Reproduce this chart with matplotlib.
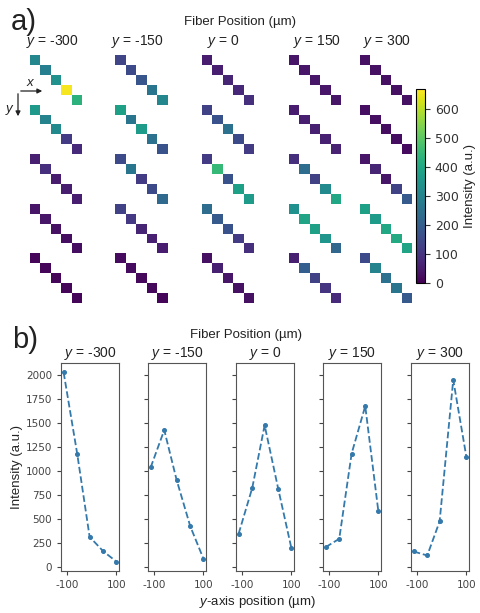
import numpy as np
import matplotlib
matplotlib.use("Agg")
import matplotlib.pyplot as plt

plt.rcParams['mathtext.fontset'] = 'custom'
plt.rcParams['mathtext.it'] = 'Liberation Sans:italic'
plt.rcParams['mathtext.rm'] = 'Liberation Sans'
plt.rcParams['axes.unicode_minus'] = False

fiber = ["-300", "-150", "0", "150", "300"]

# panel a: 5 groups (y positions) x 5 pixels (x positions), one list per fiber position
a_300n = [[310, 290, 340, 660, 430], [360, 300, 320, 120, 80], [60, 90, 50, 55, 55],
          [40, 40, 30, 25, 25], [10, 10, 10, 10, 10]]
a_150n = [[140, 150, 180, 260, 310], [380, 260, 370, 250, 170], [150, 260, 120, 150, 230],
          [130, 110, 70, 60, 50], [20, 20, 15, 15, 10]]
a_0 = [[50, 55, 70, 75, 90], [130, 170, 250, 150, 120], [120, 450, 170, 380, 370],
       [240, 190, 170, 120, 90], [30, 60, 40, 30, 30]]
a_150 = [[40, 40, 40, 40, 40], [50, 55, 60, 60, 65], [90, 240, 130, 320, 400],
         [340, 390, 380, 350, 220], [60, 200, 130, 100, 80]]
a_300 = [[30, 30, 30, 30, 30], [25, 25, 25, 25, 20], [40, 70, 40, 130, 190],
         [380, 370, 400, 410, 390], [150, 300, 250, 260, 190]]
a_vals = [a_300n, a_150n, a_0, a_150, a_300]

# panel b: summed intensity vs y-axis position
ypos = [-113, -58, -8, 47, 100]
b_300n = [2025, 1175, 312, 162, 55]
b_150n = [1035, 1425, 905, 423, 86]
b_0 = [345, 822, 1475, 812, 196]
b_150 = [205, 292, 1180, 1675, 577]
b_300 = [160, 118, 473, 1948, 1146]
b_vals = [b_300n, b_150n, b_0, b_150, b_300]

W, H = 481, 613
fig = plt.figure(figsize=(W / 100, H / 100), dpi=100)


def px_ax(l, t, w, h, **kw):
    return fig.add_axes([l / W, 1 - (t + h) / H, w / W, h / H], **kw)


def ftxt(x, y, s, **kw):
    fig.text(x / W, 1 - y / H, s, **kw)


lab = dict(family='Liberation Sans', color='#222222')

# ---- panel a ----
ftxt(11, 22, "a)", fontsize=21, va='center', **lab)
ftxt(240, 22, "Fiber Position (µm)", fontsize=9.5, ha='center', va='center', **lab)
a_lefts = [30, 115, 202, 289, 360]
title_x = [52, 137, 223, 317, 387]
for k in range(5):
    arr = np.full((25, 5), np.nan)
    for g in range(5):
        for i in range(5):
            arr[5 * g + i, i] = a_vals[k][g][i]
    ax = px_ax(a_lefts[k], 55, 52, 248)
    im = ax.imshow(arr, cmap='viridis', vmin=0, vmax=670, aspect='auto',
                   interpolation='nearest')
    ax.axis('off')
    ftxt(title_x[k], 42, "$y$ = " + fiber[k], fontsize=10, ha='center', va='center', **lab)

cax = px_ax(416, 89, 9, 194)
cb = fig.colorbar(im, cax=cax, ticks=range(0, 700, 100))
cb.ax.tick_params(labelsize=9, colors='#333333')
cb.set_label("Intensity (a.u.)", fontsize=9.5, **lab)

# xy arrows
fig.add_artist(matplotlib.patches.FancyArrowPatch(
    (18 / W, 1 - 91 / H), (45 / W, 1 - 91 / H), transform=fig.transFigure,
    arrowstyle='-|>', mutation_scale=7, lw=0.9, color='#222222'))
fig.add_artist(matplotlib.patches.FancyArrowPatch(
    (18 / W, 1 - 91 / H), (18 / W, 1 - 119 / H), transform=fig.transFigure,
    arrowstyle='-|>', mutation_scale=7, lw=0.9, color='#222222'))
ftxt(31, 83, "$x$", fontsize=9.5, ha='center', va='center', **lab)
ftxt(10, 110, "$y$", fontsize=9.5, ha='center', va='center', **lab)

# ---- panel b ----
ftxt(12, 340, "b)", fontsize=21, va='center', **lab)
ftxt(246, 335, "Fiber Position (µm)", fontsize=9.5, ha='center', va='center', **lab)
b_lefts = [61, 148, 236, 323, 411]
first = None
for k in range(5):
    ax = px_ax(b_lefts[k], 363, 58, 208, sharey=first)
    ax.plot(ypos, b_vals[k], '--o', color='#3479ab', lw=1.3, ms=2.6)
    ax.set_xticks([-100, 100])
    ax.set_title("$y$ = " + fiber[k], fontsize=10, pad=4, **lab)
    for s in ax.spines.values():
        s.set_color('#555555')
    ax.tick_params(labelsize=7.5, colors='#444444', length=3)
    if first is None:
        first = ax
        ax.set_yticks(range(0, 2001, 250))
        ax.set_ylabel("Intensity (a.u.)", fontsize=9.5, labelpad=2, **lab)
    else:
        ax.tick_params(labelleft=False)

ftxt(258, 602, "$y$-axis position (µm)", fontsize=9.5, ha='center', va='center', **lab)

fig.savefig("out.png", dpi=100)
